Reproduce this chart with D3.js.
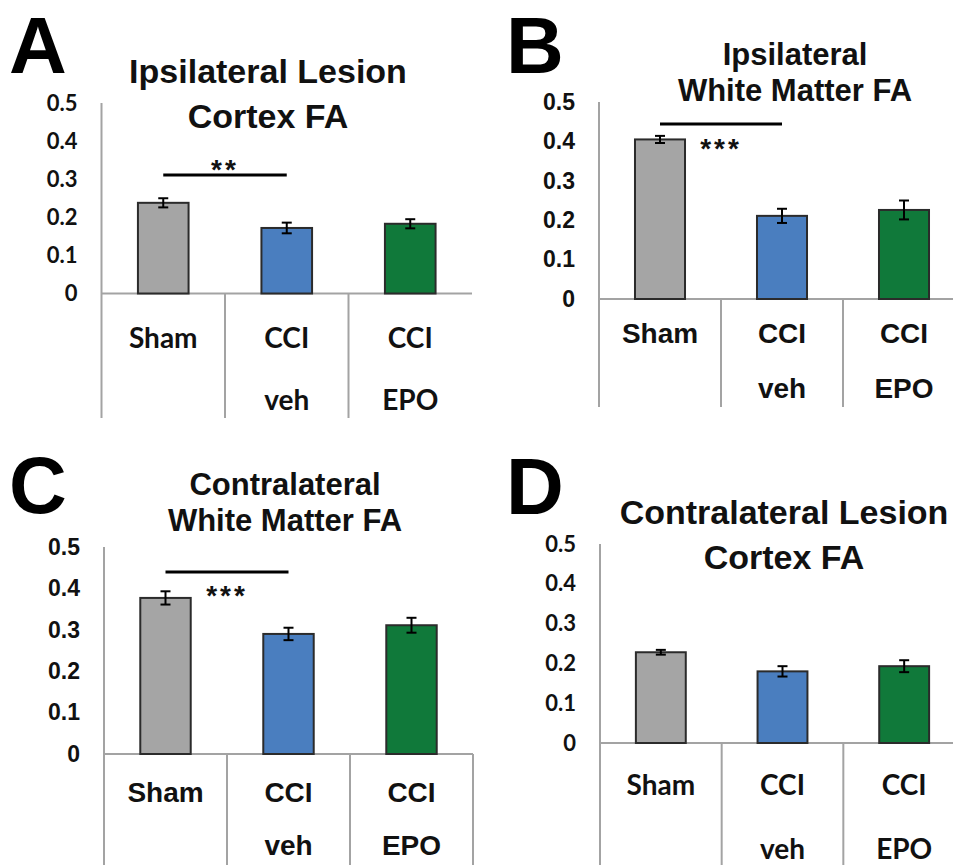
<!DOCTYPE html>
<html>
<head>
<meta charset="utf-8">
<script src="https://cdn.jsdelivr.net/npm/d3@7"></script>
<style>
  body { margin: 0; background: #fff; }
  svg { display: block; }
</style>
</head>
<body>
<svg id="fig" width="953" height="865"></svg>
<script>
// groups and labels
const GROUPS = ["Sham", "CCI veh", "CCI EPO"]
const LABEL_TOP = ["Sham", "CCI", "CCI"]
const LABEL_BOTTOM = ["", "veh", "EPO"]
const Y_TICKS = [0, 0.1, 0.2, 0.3, 0.4, 0.5]

// FA means and error bars
const A_MEAN = [0.238, 0.172, 0.183]
const A_ERR = [0.012, 0.014, 0.012]
const B_MEAN = [0.405, 0.211, 0.226]
const B_ERR = [0.009, 0.018, 0.024]
const C_MEAN = [0.377, 0.290, 0.311]
const C_ERR = [0.016, 0.015, 0.018]
const D_MEAN = [0.228, 0.180, 0.193]
const D_ERR = [0.006, 0.013, 0.015]

const A_TITLE = ["Ipsilateral Lesion", "Cortex FA"]
const B_TITLE = ["Ipsilateral", "White Matter FA"]
const C_TITLE = ["Contralateral", "White Matter FA"]
const D_TITLE = ["Contralateral Lesion", "Cortex FA"]

const COLORS = ["#a5a5a5", "#4a7ebf", "#10793a"]
const ARIAL = "'Liberation Sans', Arial, sans-serif"
const CALIBRI = "Lato, 'Open Sans', sans-serif"

const PANELS = [
    {letter: "A", mean: A_MEAN, err: A_ERR, title: A_TITLE, sig: "**",
     left: 101.5, right: 472, top: 103, base: 293.5, catBottom: 418,
     labelFont: CALIBRI, tickSize: 22, catSize: 28, catY: [338, 400],
     titleX: 268, titleY: [83, 128], titleSize: 34, letterX: 9, letterY: 73,
     sigY: 175, starY: 179, rightLine: false},
    {letter: "B", mean: B_MEAN, err: B_ERR, title: B_TITLE, sig: "***",
     left: 599, right: 965, top: 102, base: 299, catBottom: 407,
     labelFont: ARIAL, tickSize: 23, catSize: 28, catY: [333, 388],
     titleX: 795, titleY: [65, 101], titleSize: 31, letterX: 506, letterY: 73,
     sigY: 124, starY: 158, rightLine: false},
    {letter: "C", mean: C_MEAN, err: C_ERR, title: C_TITLE, sig: "***",
     left: 104, right: 473, top: 547, base: 754, catBottom: 870,
     labelFont: ARIAL, tickSize: 23, catSize: 28, catY: [792, 845],
     titleX: 285, titleY: [495, 531], titleSize: 31, letterX: 9, letterY: 513,
     sigY: 572, starY: 605, rightLine: true},
    {letter: "D", mean: D_MEAN, err: D_ERR, title: D_TITLE, sig: null,
     left: 600, right: 965, top: 544, base: 743, catBottom: 870,
     labelFont: CALIBRI, tickSize: 22, catSize: 28, catY: [785, 849],
     titleX: 784, titleY: [524, 569], titleSize: 34, letterX: 506, letterY: 514,
     sigY: 0, starY: 0, rightLine: false}
]

const svg = d3.select("#fig")

PANELS.forEach(p => drawPanel(p))

function drawPanel(p){
    const g = svg.append("g")

    const x = d3.scaleBand()
        .domain(GROUPS)
        .range([p.left, p.right])
        .padding(0)

    const y = d3.scaleLinear()
        .domain([0, 0.5])
        .range([p.base, p.top])

    const barW = x.bandwidth() * 0.41
    const data = GROUPS.map((k, i) => ({key: k, mean: p.mean[i], err: p.err[i], color: COLORS[i]}))

    // y axis: labels only, line drawn separately so it can run into the category box
    const yAxis = g.append("g")
        .attr("transform", `translate(${p.left},0)`)
        .call(d3.axisLeft(y).tickValues(Y_TICKS).tickSize(0).tickPadding(24)
            .tickFormat(d => d === 0 ? "0" : d3.format(".1f")(d)))
    yAxis.select(".domain").remove()
    yAxis.selectAll("text")
        .attr("font-family", p.labelFont)
        .attr("font-weight", "bold")
        .attr("font-size", p.tickSize)
        .attr("fill", "#111")

    // axis lines (grey, Excel style)
    g.append("line")
        .attr("x1", p.left).attr("x2", p.left)
        .attr("y1", p.top).attr("y2", p.catBottom)
        .attr("stroke", "#a3a3a3").attr("stroke-width", 2)
    g.append("line")
        .attr("x1", p.left).attr("x2", p.right)
        .attr("y1", p.base).attr("y2", p.base)
        .attr("stroke", "#a3a3a3").attr("stroke-width", 2)

    const dividers = GROUPS.slice(1).map(k => x(k))
    if (p.rightLine) dividers.push(p.right)
    g.selectAll(".divider")
        .data(dividers)
        .join("line")
        .attr("x1", d => d).attr("x2", d => d)
        .attr("y1", p.base).attr("y2", p.catBottom)
        .attr("stroke", "#a3a3a3").attr("stroke-width", 2)

    // bars
    g.selectAll(".bar")
        .data(data)
        .join("rect")
        .attr("x", d => x(d.key) + (x.bandwidth() - barW) / 2)
        .attr("y", d => y(d.mean))
        .attr("width", barW)
        .attr("height", d => y(0) - y(d.mean))
        .attr("fill", d => d.color)
        .attr("stroke", "#2b2b2b")
        .attr("stroke-width", 2)

    // error bars
    const cx = d => x(d.key) + x.bandwidth() / 2
    const eb = g.selectAll(".err").data(data).join("g")
    eb.append("line")
        .attr("x1", cx).attr("x2", cx)
        .attr("y1", d => y(d.mean - d.err)).attr("y2", d => y(d.mean + d.err))
        .attr("stroke", "#000").attr("stroke-width", 2)
    ;[-1, 1].forEach(s => {
        eb.append("line")
            .attr("x1", d => cx(d) - 5).attr("x2", d => cx(d) + 5)
            .attr("y1", d => y(d.mean + s * d.err)).attr("y2", d => y(d.mean + s * d.err))
            .attr("stroke", "#000").attr("stroke-width", 2)
    })

    // category labels
    const cat = g.selectAll(".cat").data(GROUPS).join("g")
    cat.append("text")
        .attr("x", d => x(d) + x.bandwidth() / 2)
        .attr("y", p.catY[0])
        .attr("dy", "0.36em")
        .text((d, i) => LABEL_TOP[i])
    cat.append("text")
        .attr("x", d => x(d) + x.bandwidth() / 2)
        .attr("y", p.catY[1])
        .attr("dy", "0.36em")
        .text((d, i) => LABEL_BOTTOM[i])
    cat.selectAll("text")
        .attr("text-anchor", "middle")
        .attr("font-family", p.labelFont)
        .attr("font-weight", "bold")
        .attr("font-size", p.catSize)
        .attr("fill", "#111")

    // title
    g.selectAll(".title")
        .data(p.title)
        .join("text")
        .attr("x", p.titleX)
        .attr("y", (d, i) => p.titleY[i])
        .attr("text-anchor", "middle")
        .attr("font-family", ARIAL)
        .attr("font-weight", "bold")
        .attr("font-size", p.titleSize)
        .attr("fill", "#111")
        .text(d => d)

    // panel letter
    g.append("text")
        .attr("x", p.letterX)
        .attr("y", p.letterY)
        .attr("font-family", ARIAL)
        .attr("font-weight", "bold")
        .attr("font-size", 80)
        .attr("fill", "#000")
        .text(p.letter)

    // significance bracket Sham vs CCI veh
    if (p.sig){
        g.append("line")
            .attr("x1", cx(data[0])).attr("x2", cx(data[1]))
            .attr("y1", p.sigY).attr("y2", p.sigY)
            .attr("stroke", "#000").attr("stroke-width", 3)
        g.append("text")
            .attr("x", x(GROUPS[1]))
            .attr("y", p.starY)
            .attr("text-anchor", "middle")
            .attr("font-family", ARIAL)
            .attr("font-weight", "bold")
            .attr("font-size", 28)
            .attr("letter-spacing", 3)
            .attr("fill", "#111")
            .text(p.sig)
    }
}
</script>
</body>
</html>
